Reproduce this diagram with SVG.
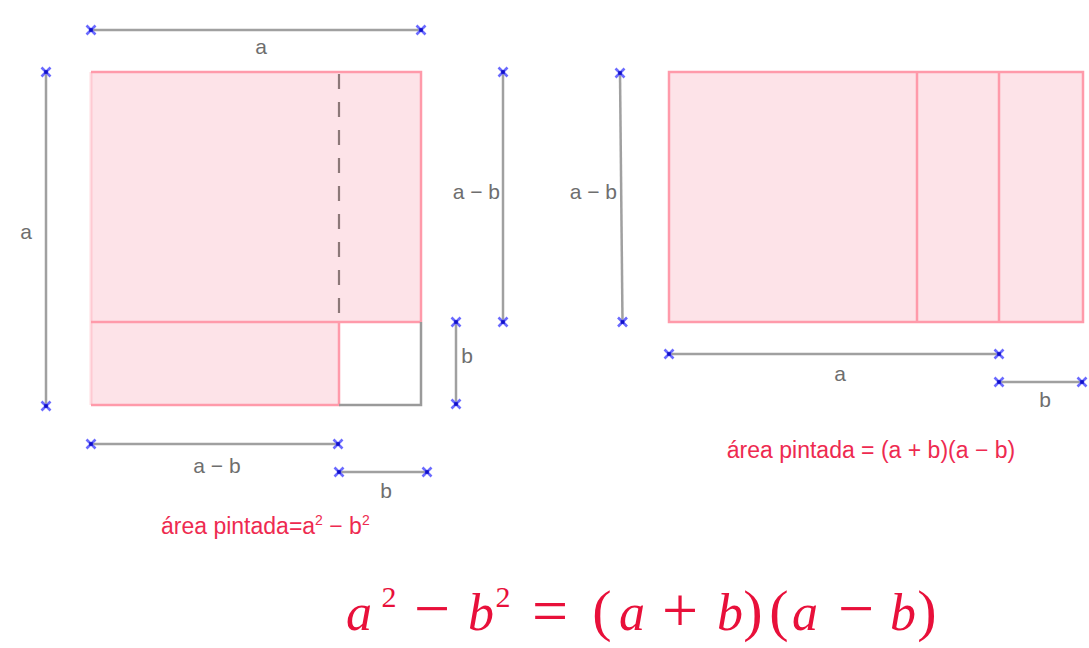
<svg xmlns="http://www.w3.org/2000/svg" width="1089" height="648" viewBox="0 0 1089 648">
<style>
.fill{fill:#fde3e8;stroke:none}
.pk{stroke:#ff9aaa;stroke-width:2.5;fill:none}
.gr{stroke:#9a9a9a;stroke-width:2.5;fill:none}
.dim{stroke:#a0a0a0;stroke-width:2.5}
.dash{stroke:#8c7878;stroke-width:2.2;stroke-dasharray:15 13}
.lbl{font-family:"Liberation Sans",Arial,sans-serif;font-size:21px;fill:#6e6e6e}
.red{font-family:"Liberation Sans",Arial,sans-serif;font-size:23px;fill:#ee2a50}
.m{font-family:"Liberation Serif","Times New Roman",serif;fill:#e8103a;text-anchor:middle}
.mi{font-style:italic;font-size:52px}
.sup{font-size:30px}
.op{font-size:64px}
.par{font-size:58px}
</style>
<defs>
<g id="pt">
<path d="M-4.5,-4.5L4.5,4.5M-4.5,4.5L4.5,-4.5" stroke="#6a6aff" stroke-width="2.6"/>
<rect x="-1.8" y="-1.8" width="3.6" height="3.6" fill="#1010c8"/>
</g>
</defs>

<g id="left-square">
<path class="fill" d="M91,72H421V322H339V405H91Z"/>
<line class="dash" x1="339" y1="74" x2="339" y2="320"/>
<path class="pk" d="M91,72H421V322"/>
<line class="pk" x1="91" y1="322" x2="421" y2="322"/>
<path class="pk" d="M91,405H339V322"/>
<line x1="91" y1="72" x2="91" y2="405" stroke="#ff9aaa" stroke-width="3" stroke-opacity="0.35"/>
<path class="gr" d="M421,322V405H339"/>
</g>

<g id="right-rect">
<rect class="fill" x="669" y="72" width="414" height="250"/>
<rect class="pk" x="669" y="72" width="414" height="250"/>
<line class="pk" x1="917" y1="72" x2="917" y2="322"/>
<line class="pk" x1="999" y1="72" x2="999" y2="322"/>
</g>

<g id="connectors">
<line class="dim" x1="91" y1="30" x2="421" y2="30"/>
<line class="dim" x1="46" y1="72" x2="46" y2="406"/>
<line class="dim" x1="503" y1="72" x2="503" y2="322"/>
<line class="dim" x1="456" y1="322" x2="456" y2="404"/>
<line class="dim" x1="91" y1="444" x2="338" y2="444"/>
<line class="dim" x1="339" y1="472" x2="427" y2="472"/>
<line class="dim" x1="620" y1="73" x2="622.5" y2="322"/>
<line class="dim" x1="669" y1="354" x2="999" y2="354"/>
<line class="dim" x1="999" y1="382" x2="1082" y2="382"/>
</g>

<g id="points">
<use href="#pt" x="91" y="30"/><use href="#pt" x="421" y="30"/>
<use href="#pt" x="46" y="72"/><use href="#pt" x="46" y="406"/>
<use href="#pt" x="503" y="72"/><use href="#pt" x="503" y="322"/>
<use href="#pt" x="456" y="322"/><use href="#pt" x="456" y="404"/>
<use href="#pt" x="91" y="444"/><use href="#pt" x="338" y="444"/>
<use href="#pt" x="339" y="472"/><use href="#pt" x="427" y="472"/>
<use href="#pt" x="620" y="73"/><use href="#pt" x="622.5" y="322"/>
<use href="#pt" x="669" y="354"/><use href="#pt" x="999" y="354"/>
<use href="#pt" x="999" y="382"/><use href="#pt" x="1082" y="382"/>
</g>

<g id="labels">
<text class="lbl" x="261" y="54" text-anchor="middle">a</text>
<text class="lbl" x="26" y="239" text-anchor="middle">a</text>
<text class="lbl" x="500" y="199" text-anchor="end">a − b</text>
<text class="lbl" x="467" y="363" text-anchor="middle">b</text>
<text class="lbl" x="217" y="473" text-anchor="middle">a − b</text>
<text class="lbl" x="386" y="498" text-anchor="middle">b</text>
<text class="lbl" x="617" y="199" text-anchor="end">a − b</text>
<text class="lbl" x="840" y="381" text-anchor="middle">a</text>
<text class="lbl" x="1045" y="407" text-anchor="middle">b</text>
<text class="red" x="161" y="534">área pintada=a<tspan font-size="14" dy="-9">2</tspan><tspan dy="9"> − b</tspan><tspan font-size="14" dy="-9">2</tspan></text>
<text class="red" x="871" y="458" text-anchor="middle">área pintada = (a + b)(a − b)</text>
</g>

<g id="formula">
<text class="m mi" x="359" y="630">a</text>
<text class="m sup" x="389" y="607">2</text>
<text class="m op" x="432" y="630">−</text>
<text class="m mi" x="481" y="630">b</text>
<text class="m sup" x="503" y="607">2</text>
<text class="m op" x="550" y="632">=</text>
<text class="m par" x="602" y="630">(</text>
<text class="m mi" x="632" y="630">a</text>
<text class="m op" x="680" y="632">+</text>
<text class="m mi" x="730" y="630">b</text>
<text class="m par" x="753" y="630">)</text>
<text class="m par" x="779" y="630">(</text>
<text class="m mi" x="805" y="630">a</text>
<text class="m op" x="856" y="630">−</text>
<text class="m mi" x="903" y="630">b</text>
<text class="m par" x="927" y="630">)</text>
</g>
</svg>
